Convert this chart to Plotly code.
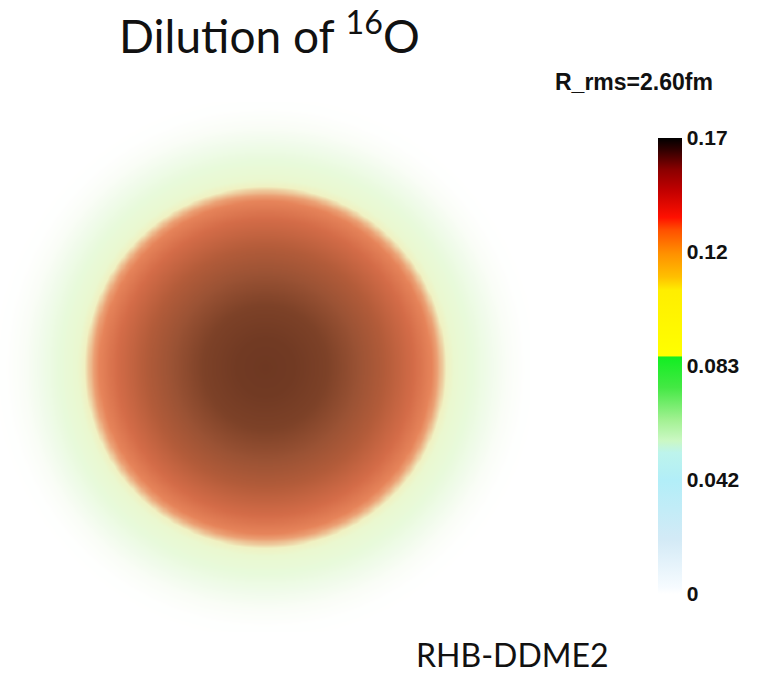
import numpy as np
import plotly.graph_objects as go

# Radial density profile of 16O (fm, fm^-3)
radius_fm = [0.0, 0.5, 1.0, 1.5, 2.0, 2.5, 2.8, 3.0, 3.2, 3.5, 3.8, 4.1, 4.4, 4.7]
density = [0.166, 0.163, 0.154, 0.140, 0.124, 0.105, 0.093, 0.083, 0.072, 0.052, 0.030, 0.012, 0.002, 0.0]

# Colour-bar ticks
bar_tickvals = [0.0, 0.0415, 0.083, 0.1245, 0.166]
bar_ticktext = ["0", "0.042", "0.083", "0.12", "0.17"]
rho_max = 0.166

# Colour map of the scale bar
bar_scale = [
    [0.0, "#ffffff"], [0.015, "#f6fbff"], [0.12, "#d3eaf6"], [0.25, "#b2eef8"],
    [0.31, "#bdf4ec"], [0.336, "#cbf8c4"], [0.38, "#a4f194"], [0.453, "#44e844"],
    [0.519, "#12ee22"], [0.523, "#ffff00"], [0.666, "#ffee00"], [0.695, "#ffc000"],
    [0.747, "#ff9000"], [0.798, "#ff5000"], [0.826, "#ff1000"], [0.886, "#c00000"],
    [0.93, "#8c0000"], [0.974, "#300000"], [1.0, "#000000"],
]

# Shaded look of the rendered nucleus
render_scale = [
    [0.0, "#ffffff"], [0.07, "#fafdf7"], [0.18, "#f0fbea"], [0.31, "#e8fadb"],
    [0.434, "#eaf8d0"], [0.476, "#f0f1c2"], [0.524, "#eba074"], [0.554, "#e6845a"],
    [0.627, "#d46c48"], [0.735, "#b45c3a"], [0.83, "#9a5234"], [0.916, "#7e4228"],
    [1.0, "#6e3822"],
]

grid = np.linspace(-4.5, 4.5, 241)
gx, gy = np.meshgrid(grid, grid)
rr = np.sqrt(gx ** 2 + gy ** 2)
zz = np.interp(rr, radius_fm, density)

fig = go.Figure()
fig.add_trace(go.Heatmap(
    x=grid, y=grid, z=zz, zmin=0, zmax=rho_max, zsmooth="best",
    colorscale=render_scale, showscale=False, hoverinfo="skip",
))
fig.add_trace(go.Scatter(
    x=[0], y=[0], mode="markers", xaxis="x2", yaxis="y2", hoverinfo="skip",
    marker=dict(
        color=[0], cmin=0, cmax=rho_max, colorscale=bar_scale, size=1, opacity=0,
        showscale=True,
        colorbar=dict(
            x=658 / 757, xanchor="left", xref="paper", xpad=0, ypad=0,
            y=1 - 366 / 676, yanchor="middle",
            len=456 / 676, lenmode="fraction", thickness=24,
            outlinewidth=0, ticks="", tickvals=bar_tickvals, ticktext=bar_ticktext,
            tickfont=dict(family="Liberation Sans", size=21, color="#111111", weight="bold"),
        ),
    ),
))

fig.update_layout(
    width=757, height=676, margin=dict(l=0, r=0, t=0, b=0),
    paper_bgcolor="white", plot_bgcolor="white", showlegend=False,
    xaxis=dict(domain=[0, 530 / 757], range=[-4.5, 4.5], visible=False),
    yaxis=dict(domain=[44 / 676, 574 / 676], range=[-4.5, 4.5], visible=False),
    xaxis2=dict(domain=[0.9, 0.95], range=[10, 11], visible=False),
    yaxis2=dict(domain=[0.9, 0.95], range=[10, 11], visible=False),
    annotations=[
        dict(text="Dilution of <sup>16</sup>O", x=117 / 757, y=1 - 33 / 676,
             xref="paper", yref="paper", xanchor="left", yanchor="middle",
             showarrow=False, font=dict(family="Lato", size=46, color="#111111")),
        dict(text="R_rms=2.60fm", x=634 / 757, y=1 - 82 / 676,
             xref="paper", yref="paper", xanchor="center", yanchor="middle",
             showarrow=False, font=dict(family="Liberation Sans", size=23, color="#111111", weight="bold")),
        dict(text="RHB-DDME2", x=512 / 757, y=0,
             xref="paper", yref="paper", xanchor="center", yanchor="bottom",
             showarrow=False, font=dict(family="Lato", size=32, color="#111111")),
    ],
)

fig.write_html("out.html")
